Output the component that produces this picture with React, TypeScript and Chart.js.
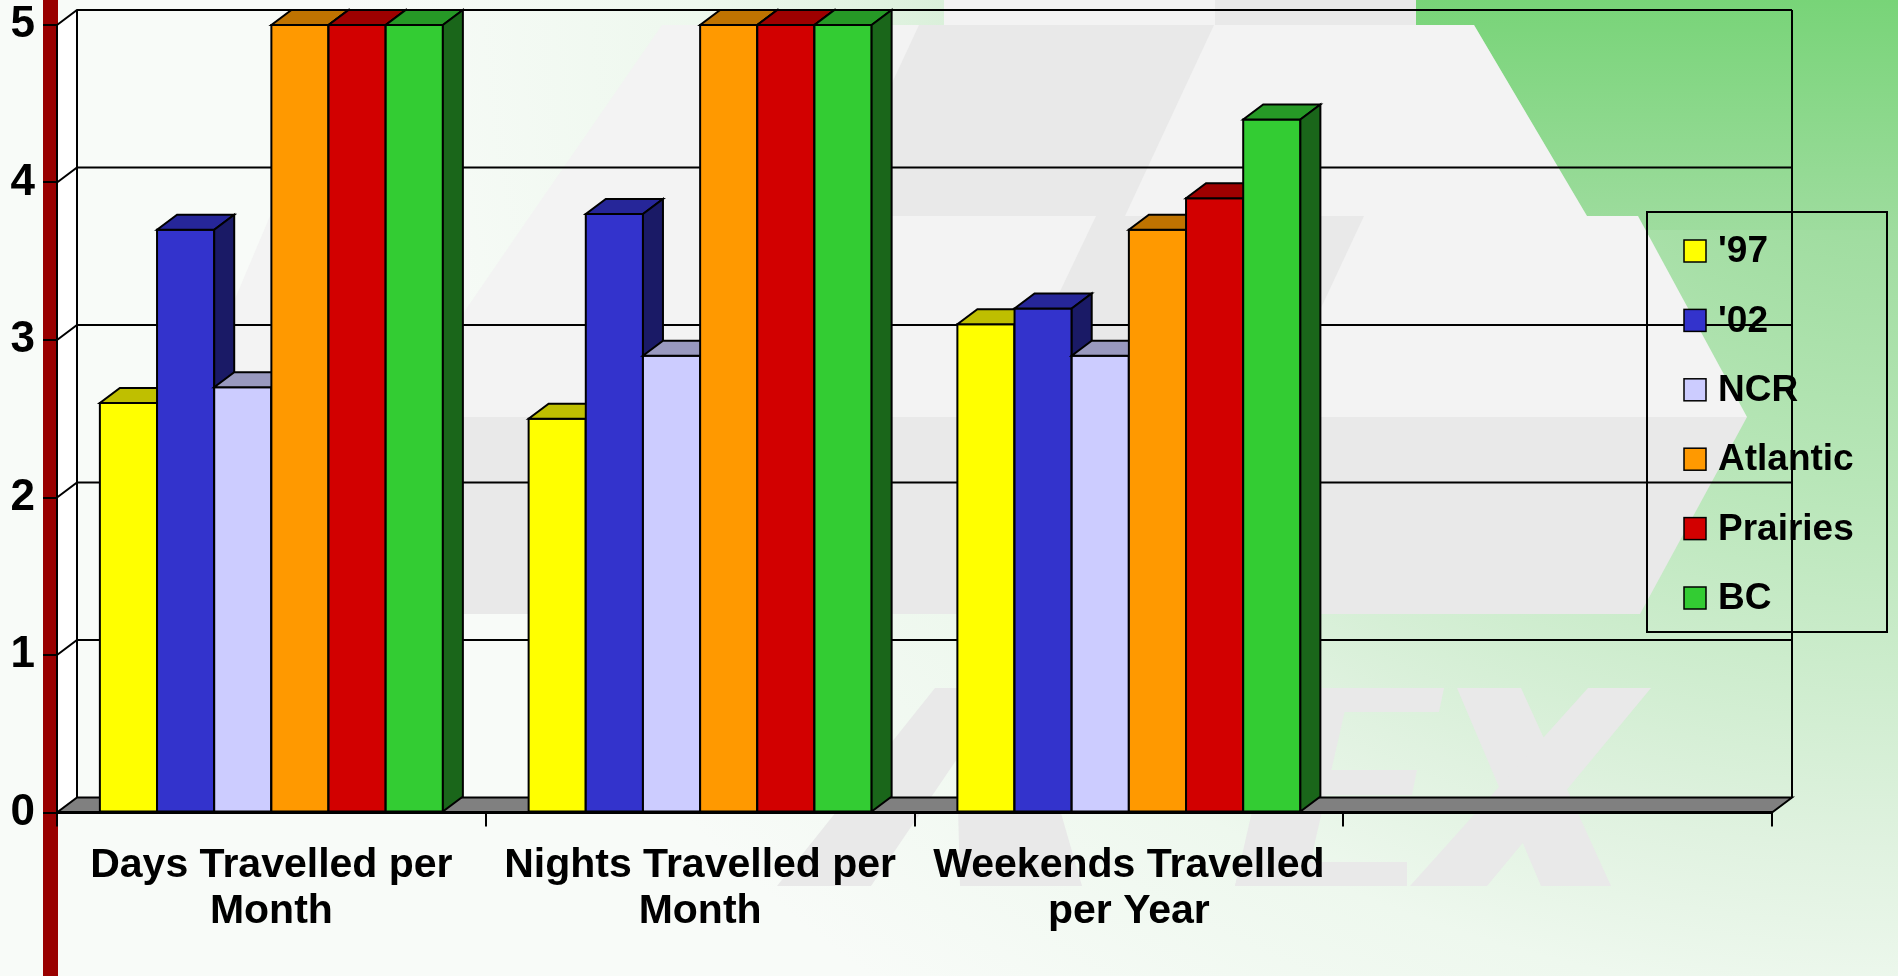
import React, { useEffect, useRef } from "react";
import { Chart, registerables } from "chart.js";

Chart.register(...registerables);

const WIDTH = 1898;
const HEIGHT = 976;
const FONT = '"Liberation Sans", Arial, Helvetica, sans-serif';

// Category labels; the fourth slot stays empty.
const categories: (string | string[])[] = [
  ["Days Travelled per", "Month"],
  ["Nights Travelled per", "Month"],
  ["Weekends Travelled", "per Year"],
  "",
];

const seriesNames = ["'97", "'02", "NCR", "Atlantic", "Prairies", "BC"];
const values97 = [2.6, 2.5, 3.1];
const values02 = [3.7, 3.8, 3.2];
const valuesNCR = [2.7, 2.9, 2.9];
const valuesAtlantic = [5, 5, 3.7];
const valuesPrairies = [5, 5, 3.9];
const valuesBC = [5, 5, 4.4];
const seriesValues = [values97, values02, valuesNCR, valuesAtlantic, valuesPrairies, valuesBC];
const seriesColors = ["#FFFF00", "#3333CC", "#CCCCFF", "#FF9900", "#D20000", "#33CC33"];

const Y_MIN = 0;
const Y_MAX = 5;
const Y_STEP = 1;

// 3D depth offset of the plot box and of every bar
const DEPTH_X = 20;
const DEPTH_Y = -15;

type Pt = [number, number];

function shade(hex: string, f: number): string {
  const n = parseInt(hex.slice(1), 16);
  const r = Math.round(((n >> 16) & 255) * f);
  const g = Math.round(((n >> 8) & 255) * f);
  const b = Math.round((n & 255) * f);
  return `rgb(${r},${g},${b})`;
}

function poly(
  ctx: CanvasRenderingContext2D,
  pts: Pt[],
  fill?: string | CanvasGradient,
  stroke?: string,
  lw = 2
) {
  ctx.beginPath();
  ctx.moveTo(pts[0][0], pts[0][1]);
  for (let i = 1; i < pts.length; i++) ctx.lineTo(pts[i][0], pts[i][1]);
  ctx.closePath();
  if (fill) {
    ctx.fillStyle = fill;
    ctx.fill();
  }
  if (stroke) {
    ctx.strokeStyle = stroke;
    ctx.lineWidth = lw;
    ctx.lineJoin = "miter";
    ctx.stroke();
  }
}

// Faint grey logo shapes of the slide backdrop
const LIGHT = "#f3f3f3";
const DARK = "#e9e9e9";
const backdropShapes: { fill: string; pts: Pt[] }[] = [
  { fill: LIGHT, pts: [[944, 0], [1416, 0], [1416, 25], [944, 25]] },
  { fill: DARK, pts: [[1215, 0], [1416, 0], [1416, 25], [1215, 25]] },
  { fill: LIGHT, pts: [[662, 25], [1474, 25], [1587, 216], [530, 216]] },
  { fill: DARK, pts: [[919, 25], [1214, 25], [1125, 216], [830, 216]] },
  { fill: LIGHT, pts: [[270, 216], [445, 216], [445, 417], [185, 417]] },
  { fill: LIGHT, pts: [[530, 216], [1638, 216], [1747, 417], [392, 417]] },
  { fill: DARK, pts: [[1096, 216], [1364, 216], [1270, 417], [1000, 417]] },
  { fill: DARK, pts: [[392, 417], [1747, 417], [1640, 614], [300, 614]] },
  // lettering along the bottom
  { fill: DARK, pts: [[935, 688], [1005, 688], [871, 886], [777, 886]] },
  { fill: DARK, pts: [[955, 688], [1025, 688], [1082, 886], [960, 886]] },
  { fill: DARK, pts: [[1280, 688], [1350, 688], [1305, 886], [1235, 886]] },
  { fill: DARK, pts: [[1280, 688], [1444, 688], [1439, 712], [1275, 712]] },
  { fill: DARK, pts: [[1262, 770], [1417, 770], [1412, 795], [1257, 795]] },
  { fill: DARK, pts: [[1241, 862], [1407, 862], [1407, 886], [1235, 886]] },
  { fill: DARK, pts: [[1457, 688], [1521, 688], [1611, 886], [1541, 886]] },
  { fill: DARK, pts: [[1588, 688], [1651, 688], [1487, 886], [1410, 886]] },
];

function paintBackdrop(ctx: CanvasRenderingContext2D) {
  ctx.save();
  ctx.translate(WIDTH, 0);
  ctx.scale(1.2, 1);
  const g = ctx.createRadialGradient(0, 0, 0, 0, 0, 1300);
  g.addColorStop(0, "#78d478");
  g.addColorStop(0.164, "#9edc9e");
  g.addColorStop(0.372, "#b8e6b8");
  g.addColorStop(0.652, "#e0f2e0");
  g.addColorStop(0.77, "#eef8ee");
  g.addColorStop(1, "#f8fbf8");
  ctx.fillStyle = g;
  ctx.fillRect(-WIDTH / 1.2 - 2, 0, WIDTH / 1.2 + 4, HEIGHT);
  ctx.restore();

  const tg = ctx.createLinearGradient(0, 0, 0, 230);
  tg.addColorStop(0, "#78d478");
  tg.addColorStop(1, "#9edc9e");
  poly(ctx, [[1416, 0], [WIDTH, 0], [WIDTH, 230], [1595, 230], [1474, 25], [1416, 25]], tg);

  for (const s of backdropShapes) poly(ctx, s.pts, s.fill);

  // dark red accent stripe down the left side
  ctx.fillStyle = "#990000";
  ctx.fillRect(43, 0, 15, HEIGHT);
}

const depthPlugin = {
  id: "depth3d",
  beforeDraw(chart: any) {
    paintBackdrop(chart.ctx);
  },
  beforeDatasetsDraw(chart: any) {
    const ctx: CanvasRenderingContext2D = chart.ctx;
    const { left, right, top, bottom } = chart.chartArea;
    const yScale = chart.scales.y;
    ctx.save();

    // left side wall
    poly(ctx, [[left, top], [left + DEPTH_X, top + DEPTH_Y], [left + DEPTH_X, bottom + DEPTH_Y], [left, bottom]], "#ffffff");

    // grid lines on the back wall and side wall
    ctx.strokeStyle = "#000";
    ctx.lineWidth = 2;
    for (let v = Y_MIN + Y_STEP; v <= Y_MAX; v += Y_STEP) {
      const py = yScale.getPixelForValue(v);
      ctx.beginPath();
      ctx.moveTo(left, py);
      ctx.lineTo(left + DEPTH_X, py + DEPTH_Y);
      ctx.lineTo(right + DEPTH_X, py + DEPTH_Y);
      ctx.stroke();
    }
    ctx.beginPath();
    ctx.moveTo(left + DEPTH_X, top + DEPTH_Y);
    ctx.lineTo(left + DEPTH_X, bottom + DEPTH_Y);
    ctx.moveTo(right + DEPTH_X, top + DEPTH_Y);
    ctx.lineTo(right + DEPTH_X, bottom + DEPTH_Y);
    ctx.stroke();

    // floor
    poly(
      ctx,
      [[left, bottom], [right, bottom], [right + DEPTH_X, bottom + DEPTH_Y], [left + DEPTH_X, bottom + DEPTH_Y]],
      "#808080",
      "#000",
      2
    );

    // bars, painted left to right inside each group
    chart.data.datasets.forEach((ds: any, di: number) => {
      const meta = chart.getDatasetMeta(di);
      const color = ds.backgroundColor as string;
      meta.data.forEach((el: any) => {
        const p = el.getProps(["x", "y", "base", "width"], true);
        if (p.y == null || isNaN(p.y)) return;
        const l = p.x - p.width / 2;
        const r = p.x + p.width / 2;
        const t = Math.min(p.y, p.base);
        const b = Math.max(p.y, p.base);
        poly(ctx, [[l, t], [r, t], [r, b], [l, b]], color, "#000", 2);
        poly(ctx, [[l, t], [r, t], [r + DEPTH_X, t + DEPTH_Y], [l + DEPTH_X, t + DEPTH_Y]], shade(color, 0.75), "#000", 2);
        poly(ctx, [[r, t], [r + DEPTH_X, t + DEPTH_Y], [r + DEPTH_X, b + DEPTH_Y], [r, b]], shade(color, 0.5), "#000", 2);
      });
    });

    ctx.restore();
    return false;
  },
  afterDraw(chart: any) {
    const ctx: CanvasRenderingContext2D = chart.ctx;
    ctx.save();
    const bx = 1647, by = 212, bw = 240, bh = 420;
    ctx.strokeStyle = "#000";
    ctx.lineWidth = 2;
    ctx.strokeRect(bx, by, bw, bh);
    ctx.font = `bold 37px ${FONT}`;
    ctx.textBaseline = "middle";
    ctx.textAlign = "left";
    chart.data.datasets.forEach((ds: any, i: number) => {
      const cy = 251 + i * 69.4;
      ctx.fillStyle = ds.backgroundColor;
      ctx.fillRect(1684, cy - 11, 22, 22);
      ctx.lineWidth = 1.5;
      ctx.strokeStyle = "#000";
      ctx.strokeRect(1684, cy - 11, 22, 22);
      ctx.fillStyle = "#000";
      ctx.fillText(ds.label, 1718, cy + 1);
    });
    ctx.restore();
  },
};

export default function App() {
  const ref = useRef<HTMLCanvasElement>(null);

  useEffect(() => {
    if (!ref.current) return;
    const chart = new Chart(ref.current, {
      type: "bar",
      data: {
        labels: categories,
        datasets: seriesNames.map((name, i) => ({
          label: name,
          data: seriesValues[i],
          backgroundColor: seriesColors[i],
          borderColor: "#000",
          borderWidth: 2,
          categoryPercentage: 0.8,
          barPercentage: 1.0,
        })),
      },
      options: {
        responsive: false,
        devicePixelRatio: 1,
        animation: false,
        layout: { padding: { top: 25, right: 126, left: 0, bottom: 0 } },
        plugins: {
          legend: { display: false },
          tooltip: { enabled: false },
        },
        scales: {
          x: {
            type: "category",
            offset: true,
            grid: {
              display: true,
              offset: true,
              drawOnChartArea: false,
              drawTicks: true,
              tickLength: 14,
              color: "#000",
              lineWidth: 2,
              z: 1,
            },
            border: { display: true, color: "#000", width: 3, z: 1 },
            ticks: {
              color: "#000",
              font: { family: FONT, size: 41, weight: "bold", lineHeight: 1.13 },
              padding: 16,
              maxRotation: 0,
              minRotation: 0,
              autoSkip: false,
            },
            afterFit: (s: any) => {
              s.height = HEIGHT - 812.5;
              s.paddingLeft = 0;
              s.paddingRight = 0;
            },
          },
          y: {
            min: Y_MIN,
            max: Y_MAX,
            ticks: {
              stepSize: Y_STEP,
              color: "#000",
              font: { family: FONT, size: 44, weight: "bold", lineHeight: 1 },
              padding: 8,
            },
            grid: {
              drawOnChartArea: false,
              drawTicks: true,
              tickLength: 14,
              color: "#000",
              lineWidth: 2,
              z: 1,
            },
            border: { display: true, color: "#000", width: 2, z: 1 },
            afterFit: (s: any) => {
              s.width = 57;
              s.paddingTop = 0;
              s.paddingBottom = 0;
            },
          },
        },
      } as any,
      plugins: [depthPlugin],
    });
    return () => chart.destroy();
  }, []);

  return (
    <div style={{ position: "fixed", left: 0, top: 0, width: WIDTH, height: HEIGHT, overflow: "hidden" }}>
      <canvas ref={ref} width={WIDTH} height={HEIGHT} style={{ display: "block", width: WIDTH, height: HEIGHT }} />
    </div>
  );
}
